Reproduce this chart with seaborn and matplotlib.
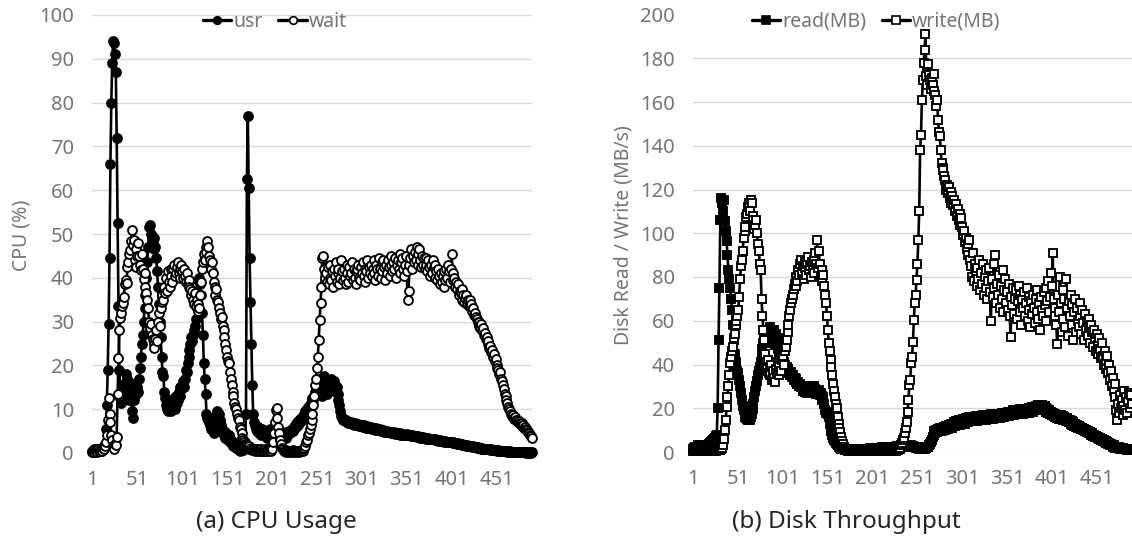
import numpy as np
import pandas as pd
import matplotlib
matplotlib.use("Agg")
import matplotlib.pyplot as plt
import seaborn as sns
from matplotlib.lines import Line2D

# ---- CPU usage (%), one sample per interval ----
usr = [
    0.5, 0.3, 0.8, 0.6, 1.0, 0.4, 0.7, 0.9, 0.5, 0.6,
    0.8, 1.2, 0.9, 1.5, 2.0, 5.5, 11, 19, 29.5, 44.5,
    66, 80, 89, 94, 93.5, 91, 87, 72, 52.6, 33.5,
    19, 12.5, 11.5, 13.5, 15.5, 14, 16, 18, 17, 15,
    14, 12, 16, 13, 9.5, 8, 12, 15, 16, 13.5,
    15, 14, 17, 19.5, 22, 25, 27, 30, 33, 36,
    40, 43.5, 47, 51.5, 52, 50, 49.5, 48, 46.5, 49,
    47, 44.5, 41.5, 38, 34, 30, 26.5, 22, 18.5, 17.5,
    14, 12.5, 11, 10, 9.5, 10.5, 11.5, 9.5, 12, 10.5,
    11, 12.5, 10, 13, 11.5, 12, 14, 13, 15, 14.5,
    15, 16.5, 15, 17, 19, 18.5, 20.5, 22, 23.5, 25,
    26.5, 25.5, 27, 28, 29, 30.5, 33, 36, 39.5, 40,
    38.5, 36, 32, 27, 20.5, 17, 13.5, 9, 8, 7.5,
    7, 6.5, 5.5, 6, 5, 4.5, 6, 7.5, 8.5, 9.5,
    8.5, 9, 7.5, 6.5, 5.5, 4.5, 5, 4, 3.5, 4.5,
    3.5, 3, 4, 2.5, 3, 2, 2.5, 1.5, 2, 1.5,
    1.2, 1.5, 0.8, 1, 0.5, 0.8, 0.6, 1, 0.7, 1.5,
    2.5, 9, 62.5, 77, 60.5, 44.5, 34.5, 25, 15.5, 9,
    7, 6.5, 5.5, 5, 6, 5.5, 4.5, 5, 4, 5.5,
    4.5, 5, 4, 4.5, 3.5, 5, 4, 4.5, 5.5, 4,
    5, 4.5, 5.5, 4, 3.5, 5, 4.5, 3.8, 5, 4.2,
    3.5, 4.5, 4, 3.8, 4.2, 3.5, 4.8, 4, 4.5, 5,
    4.5, 5, 5.5, 5, 6, 5.5, 6.5, 6, 7, 6.5,
    7.5, 7, 8, 7.5, 8.5, 8, 9, 9.5, 9, 10,
    10.5, 10, 11, 11.5, 12, 12.5, 12, 13, 14, 14.5,
    15, 16, 15.5, 17, 14.5, 16, 13, 15, 17.5, 14,
    15.5, 13.5, 16, 14.5, 15, 16.5, 17, 16, 15, 16.5,
    15.5, 14, 15, 13.5, 12, 11, 9.5, 8.5, 8, 7.5,
    7.8, 7.2, 7.5, 7, 7.3, 6.8, 7.1, 6.9, 7, 6.7,
    6.8, 6.5, 6.9, 6.4, 6.6, 6.3, 6.7, 6.2, 6.5, 6.1,
    6.4, 6, 6.3, 5.9, 6.2, 5.8, 6.1, 5.7, 6, 5.6,
    5.9, 5.5, 5.8, 5.4, 5.7, 5.3, 5.6, 5.2, 5.5, 5.2,
    5.4, 5.1, 5.3, 5, 5.2, 4.9, 5.1, 4.8, 5, 4.8,
    4.9, 4.7, 4.8, 4.6, 4.8, 4.5, 4.7, 4.4, 4.6, 4.4,
    4.5, 4.3, 4.5, 4.2, 4.4, 4.1, 4.3, 4, 4.2, 4,
    4.3, 4.1, 4.2, 4, 4.1, 3.9, 4, 3.8, 3.9, 3.9,
    3.8, 3.7, 3.8, 3.6, 3.7, 3.5, 3.6, 3.5, 3.6, 3.4,
    3.5, 3.3, 3.4, 3.3, 3.4, 3.2, 3.3, 3.1, 3.2, 3.1,
    3.2, 3, 3.1, 2.9, 3, 2.8, 3, 2.9, 2.7, 2.8,
    2.7, 2.8, 2.6, 2.7, 2.5, 2.6, 2.6, 2.4, 2.5, 2.4,
    2.5, 2.3, 2.4, 2.2, 2.3, 2.2, 2.1, 2.2, 2, 2.1,
    2, 1.9, 2, 1.8, 1.9, 1.8, 1.7, 1.8, 1.6, 1.7,
    1.6, 1.5, 1.6, 1.4, 1.5, 1.4, 1.3, 1.4, 1.2, 1.3,
    1.2, 1.1, 1.2, 1, 1.1, 1, 0.9, 1, 0.9, 0.8,
    0.9, 0.8, 0.8, 0.7, 0.8, 0.7, 0.6, 0.7, 0.6, 0.6,
    0.6, 0.5, 0.6, 0.5, 0.5, 0.4, 0.5, 0.4, 0.5, 0.4,
    0.4, 0.4, 0.3, 0.4, 0.3, 0.4, 0.3, 0.3, 0.3, 0.3,
    0.3, 0.2, 0.3, 0.2, 0.3, 0.2, 0.2, 0.3, 0.2, 0.2,
    0.2, 0.2, 0.2, 0.1, 0.2, 0.2, 0.1, 0.2, 0.1, 0.2,
]

wait = [
    0.3, 0.5, 0.2, 0.6, 0.4, 0.3, 0.8, 0.5, 0.4, 0.6,
    0.8, 0.5, 1.2, 0.9, 1.5, 2.5, 4, 7.5, 12.5, 9,
    7, 4, 3, 1.5, 1, 2, 1.8, 3.7, 13.5, 21.6,
    28, 30.8, 32, 33.5, 34.2, 35.7, 38.5, 39.5, 38.8, 42.5,
    43.7, 45.5, 46.4, 48.5, 51, 47.5, 48.7, 44, 46.5, 42.5,
    45, 48, 44.9, 43, 41.8, 45.5, 42, 39.8, 41, 38,
    36.5, 35, 33, 30, 28.5, 29.5, 27, 26, 25, 24,
    26, 28, 25.5, 30, 32, 29, 33, 34.5, 36, 35,
    38, 36.5, 40, 37, 41.5, 39, 38, 42, 40.5, 39,
    42, 43, 40.5, 41, 42.5, 43.5, 41, 40, 42, 43,
    41.5, 40, 42, 40.5, 39, 41, 38.5, 39.5, 38, 37.5,
    36, 37, 35, 34, 36.5, 33.5, 35, 32.5, 34, 33,
    36, 39, 42, 43.5, 45.5, 44, 47, 46, 48.5, 47,
    45, 44, 42, 43.5, 41, 39, 38, 36, 37.5, 35,
    34.5, 33, 32, 30.5, 31, 29, 28, 26.5, 25, 23.5,
    22, 21, 20.5, 18.5, 17, 15.5, 14, 13, 11.5, 10.5,
    10, 9, 8, 7.5, 6, 5.5, 4.5, 3.5, 3, 2.5,
    2, 1.8, 1.5, 1.2, 1.5, 1, 0.8, 1.2, 0.7, 1,
    0.8, 0.5, 1, 0.7, 0.4, 0.9, 0.6, 0.5, 0.8, 0.4,
    0.6, 0.5, 0.8, 0.4, 0.6, 0.9, 0.5, 0.7, 0.6, 0.5,
    1, 2.5, 4.5, 7, 9.8, 10.2, 8, 6, 4.5, 3,
    2, 1.2, 0.8, 0.5, 0.4, 0.6, 0.3, 0.5, 0.4, 0.3,
    0.5, 0.3, 0.4, 0.6, 0.3, 0.5, 0.4, 0.3, 0.5, 0.4,
    0.3, 0.5, 0.4, 0.6, 0.5, 0.8, 1.2, 1.5, 2.5, 3,
    4, 4.5, 5.5, 6.5, 7.5, 9, 11, 13, 15.5, 17,
    19.5, 22, 25.8, 30.4, 34.2, 38, 44.5, 45, 42, 40,
    41, 39, 42.5, 38.5, 40, 43, 39.5, 41.5, 38, 42,
    40.5, 43.5, 39, 41, 42, 38.5, 40, 44, 41.5, 39.5,
    42, 40, 38.5, 41, 43, 39, 42.5, 40.5, 41, 43.5,
    39.5, 42, 40, 41.5, 38.5, 42, 43, 40, 39.5, 42.5,
    41, 43.5, 40.5, 42, 39, 41.5, 44, 40, 42.5, 41,
    43, 40.5, 42, 44, 41, 39.5, 43, 42, 40.5, 44.5,
    42, 40, 43.5, 41.5, 44, 42.5, 39.5, 43, 41, 44,
    42.5, 40.5, 43, 45, 41.5, 43.5, 42, 44.5, 40, 43,
    44, 42, 45.5, 41, 43.5, 44.5, 42, 40.5, 43, 45,
    41.5, 35, 37, 43, 44.5, 46.5, 42, 45, 43.5, 46,
    44, 47, 45.5, 43, 46.5, 44, 42.5, 45, 43, 44.5,
    42, 44.5, 43, 41.5, 44, 42.5, 40.5, 43, 41, 44,
    42.5, 40, 43, 41.5, 39.5, 42, 40.5, 38.5, 41, 39,
    40.5, 38, 41.5, 39.5, 42, 40, 43, 41.5, 39, 42,
    45.5, 41, 39.5, 40, 38, 39, 37.5, 38.5, 36, 37,
    36.5, 37.5, 35, 36, 34.5, 35.5, 36, 34, 35, 33.5,
    35, 33.5, 34, 32.5, 33, 31.5, 32, 31, 30.5, 30,
    30, 29, 28.5, 29.5, 28, 28.5, 27, 27.5, 26, 26.5,
    25, 25.5, 24, 24.5, 23, 23.5, 22, 22.5, 21, 21.5,
    20, 19.5, 19, 18, 18.5, 17, 16.5, 15.5, 14.5, 13.5,
    13, 12, 11.5, 10.5, 10, 9.5, 9, 8.5, 8.7, 8,
    7.8, 8.2, 7.5, 7.6, 7, 7.3, 6.8, 6.5, 6.8, 6,
    6.3, 5.8, 6, 5.5, 5.2, 4.8, 4.5, 4.2, 3.8, 3.5,
]

# ---- Disk throughput (MB/s) ----
read_mb = [
    1.5, 2, 2.5, 1.8, 2.2, 3, 2.5, 2, 2.8, 2.4,
    2.6, 3, 2.2, 2.8, 3.2, 2.5, 3, 3.5, 4, 3.6,
    4.5, 5, 5.5, 6, 6.5, 7.5, 8, 20, 51, 75,
    106, 116, 114, 110, 115, 105.5, 101, 96.5, 90, 83,
    79, 75, 70, 65, 58, 51, 45, 41, 39, 37,
    36, 33, 30, 27, 24, 21, 19, 17.5, 16, 15.5,
    15, 14.5, 15, 14.8, 16, 17.5, 19.5, 22, 25, 28,
    30, 32.5, 35, 37, 39, 41, 44, 47, 50, 53,
    55, 52, 56, 51, 54, 57, 50, 55, 53, 52,
    56, 49, 54, 51, 47, 52, 45, 49, 43, 46,
    42, 41, 40, 38.5, 39, 37, 38, 36, 35, 36.5,
    34.5, 35, 33, 34, 32, 33.5, 31, 32, 30, 31,
    29.5, 30, 28, 29, 27.5, 28.5, 29, 27, 28, 30,
    28, 29.5, 27, 28.5, 30, 28, 29, 26.5, 28, 27,
    28.5, 26, 27, 25.5, 24, 25, 22, 19, 18, 18.5,
    17.5, 16, 13, 11, 9.5, 8, 6.5, 5.5, 5, 4,
    3.5, 3, 2.5, 3, 2, 1.5, 2, 1.2, 1.5, 1,
    1.2, 0.8, 1, 1.5, 0.9, 1.2, 0.7, 1, 1.3, 0.8,
    1, 1.4, 0.9, 1.2, 1.5, 1, 1.3, 0.8, 1.1, 1.4,
    1.2, 1.6, 1, 1.3, 1.5, 1.1, 1.4, 1.7, 1.2, 1.5,
    1.3, 1.8, 1.4, 1.6, 1.2, 1.9, 1.5, 1.7, 2, 1.6,
    1.8, 2.1, 1.5, 1.9, 2.2, 1.7, 2, 2.3, 1.8, 2.1,
    2.4, 1.9, 2.2, 2.5, 2, 2.3, 1.8, 2.6, 2.1, 2.4,
    2.7, 2.2, 2.5, 2.9, 2.4, 2.8, 3.2, 2.6, 3, 2.7,
    2.9, 3.2, 2.6, 3, 2.4, 2.8, 2.2, 2.5, 2, 2.3,
    1.8, 2.2, 1.6, 2, 1.5, 1.9, 1.4, 1.7, 1.5, 2,
    1.8, 2.5, 2.2, 3, 3.5, 4.5, 5.5, 7, 8, 9.5,
    8.5, 10, 9, 10.5, 9.5, 11, 10, 9.5, 11, 10.5,
    11.5, 10, 12, 11, 10.5, 12.5, 11.5, 13, 12, 11,
    12.5, 13.5, 12, 14, 12.5, 13, 14.5, 13, 12.5, 14,
    13.5, 15, 14, 13, 15.5, 14, 15, 13.5, 16, 14.5,
    15.5, 14, 16, 15, 14.5, 16.5, 15, 14, 16, 15.5,
    16, 14.5, 15.5, 17, 15, 16, 14.5, 16.5, 15.5, 17,
    16, 15, 17.5, 16.5, 15, 17, 16, 15.5, 17, 16.5,
    17.5, 16, 15.5, 17, 18, 16.5, 17.5, 16, 18, 17,
    17.5, 18.5, 16.5, 18, 17, 18.5, 17.5, 19, 17, 18,
    18.5, 17.5, 19, 18, 17.5, 19.5, 18, 19, 17.5, 18.5,
    19, 18, 19.5, 18.5, 20, 18, 19.5, 19, 20.5, 18.5,
    19.5, 20, 21, 19, 20.5, 21.5, 19.5, 21, 20, 21.5,
    20, 19, 21, 18.5, 20, 19.5, 18, 19, 17.5, 18.5,
    17, 18, 16.5, 17.5, 16, 17, 15.5, 16.5, 15, 16,
    17, 15, 16.5, 14.5, 16, 15, 14, 15.5, 14.5, 13.5,
    14.5, 13, 14, 12.5, 13.5, 12, 13, 11.5, 12.5, 11,
    12, 11, 11.5, 10.5, 11, 10, 10.5, 9.5, 10, 9,
    9.5, 9, 8.5, 9, 8, 8.5, 7.5, 8, 7, 7.5,
    7, 6.5, 7, 6, 6.5, 5.5, 6, 5, 5.5, 4.5,
    5, 4, 4.5, 3.5, 4, 3, 3.5, 3, 2.5, 3,
    2.5, 2, 2.5, 2, 1.8, 2.2, 1.6, 1.8, 1.5, 1.7,
    1.4, 1.5, 1.2, 1.4, 1.1, 1.3, 1, 1.2, 1, 1.1,
]

write_mb = [
    0.5, 0.8, 0.3, 1, 0.6, 0.4, 0.9, 0.7, 0.5, 0.8,
    0.6, 1, 0.4, 0.8, 0.7, 0.5, 1.1, 0.6, 0.9, 0.7,
    0.8, 0.5, 1, 0.7, 1.2, 0.6, 0.9, 1.3, 0.8, 1,
    1, 1.5, 2, 3, 6, 10, 14.5, 20.5, 25, 30,
    35, 40.5, 43.5, 46, 48, 52, 54, 58, 60, 62,
    65, 71, 79, 85, 88, 92, 98, 101, 103, 107.5,
    109, 112, 113.7, 110, 115, 114, 108, 106, 102, 104,
    106, 100, 95, 92, 86, 83, 70, 62, 56, 51,
    45, 41, 38, 42, 36, 39, 35, 40, 33, 37,
    34, 32, 38, 36, 41, 35, 39, 43, 37, 42,
    44, 40, 46, 48, 51, 55, 58, 62, 65, 68,
    70, 72, 74.5, 77, 76, 80, 78, 83, 81, 86,
    88, 82, 85, 79, 84, 87, 81, 86, 89, 83,
    85, 80, 87, 83, 88, 82, 91, 86, 97, 84,
    92, 86, 80, 83, 78, 81, 76, 72, 68, 62,
    56, 50, 46, 42, 39, 35, 31, 28, 25, 22,
    20, 16, 13, 11, 9, 7, 5, 3.5, 2.5, 1.5,
    1, 0.8, 1.2, 0.6, 0.9, 0.5, 0.8, 0.4, 0.7, 0.5,
    0.6, 0.4, 0.8, 0.5, 0.3, 0.7, 0.5, 0.4, 0.6, 0.3,
    0.5, 0.7, 0.4, 0.6, 0.3, 0.5, 0.8, 0.4, 0.6, 0.5,
    0.4, 0.6, 0.3, 0.7, 0.5, 0.4, 0.6, 0.8, 0.5, 0.3,
    0.6, 0.4, 0.7, 0.5, 0.3, 0.6, 0.4, 0.8, 0.5, 0.6,
    0.4, 0.7, 0.5, 0.3, 0.6, 0.9, 0.5, 1, 0.7, 1.5,
    1.2, 2, 3.2, 4, 5.5, 6.5, 8.5, 11, 13.9, 18.5,
    23.8, 30.6, 33, 40.5, 43.6, 50.4, 60.3, 68, 72, 78.6,
    86, 97, 110, 138, 145, 161, 170, 178, 184, 191,
    172, 168, 177.5, 172.5, 170, 166, 171, 168, 173, 165,
    163, 158, 161, 151.8, 146.4, 144.3, 138, 132, 130, 129,
    126, 124.4, 120, 122, 118.4, 121, 116, 119, 114, 117,
    113, 115, 110, 113.6, 108, 111, 106, 109, 104, 107,
    103, 99, 101, 96, 98, 93, 95, 90, 97, 88,
    85, 80, 91, 78, 86, 82, 76, 84, 79, 88,
    74, 82, 77, 86, 72, 80, 75, 83, 70, 78,
    84, 73, 60, 79, 71, 86, 75, 90, 68, 77,
    72, 81, 66, 76, 70, 83, 64, 74, 79, 68,
    73, 65, 77, 62, 52.7, 71, 67, 75, 63, 70,
    74, 61, 69, 76, 64, 72, 58, 70, 66, 73,
    62, 68, 75, 60, 71, 65, 57, 69, 63, 72,
    66, 59, 70, 64, 74, 61, 68, 56, 71, 65,
    62, 73, 67, 60, 75, 69, 78, 64, 71, 82,
    76, 90.8, 70, 62, 66, 58, 49.6, 72, 64, 80,
    68, 55, 74, 61, 70, 57, 79, 66, 53, 69,
    62, 72, 58, 67, 51, 64, 70, 55, 66, 60,
    57, 68, 62, 54, 65, 59, 51, 63, 56, 60,
    53, 61, 57, 50, 58, 55, 48, 56, 52, 46,
    54, 49, 45, 52, 47, 43, 50, 44, 40, 46,
    42, 38, 44, 36, 40, 33, 37, 30, 34, 28,
    31, 25, 19, 14.6, 22, 18, 26, 20, 24, 17,
    21, 28, 19, 25, 18, 23, 27, 20, 26, 22,
]

x_tick_values = [1, 51, 101, 151, 201, 251, 301, 351, 401, 451]
cpu_yticks = [0, 10, 20, 30, 40, 50, 60, 70, 80, 90, 100]
disk_yticks = [0, 20, 40, 60, 80, 100, 120, 140, 160, 180, 200]

sns.set_theme(style="white")
plt.rcParams["font.family"] = ["Noto Sans", "DejaVu Sans"]

GREY_TXT = "#757575"
GRID = "#d9d9d9"
W, H = 1132, 548

fig = plt.figure(figsize=(W / 100, H / 100), dpi=100)
ax1 = fig.add_axes([92 / W, 1 - 453 / H, 440 / W, 438 / H])
ax2 = fig.add_axes([693 / W, 1 - 452 / H, 439 / W, 437.5 / H])

n = len(usr)
t = np.arange(1, n + 1)
cpu = pd.DataFrame({"t": t, "usr": usr, "wait": wait})
disk = pd.DataFrame({"t": t, "read": read_mb, "write": write_mb})

line_kw = dict(color="black", linewidth=1.9, markeredgecolor="black",
               markeredgewidth=1.35, clip_on=False, legend=False)

sns.lineplot(data=cpu, x="t", y="usr", ax=ax1, marker="o", markersize=6.4,
             markerfacecolor="black", **line_kw)
sns.lineplot(data=cpu, x="t", y="wait", ax=ax1, marker="o", markersize=6.4,
             markerfacecolor="white", **line_kw)
sns.lineplot(data=disk, x="t", y="read", ax=ax2, marker="s", markersize=6.0,
             markerfacecolor="black", **line_kw)
sns.lineplot(data=disk, x="t", y="write", ax=ax2, marker="s", markersize=6.0,
             markerfacecolor="white", **line_kw)

for ax, yt in ((ax1, cpu_yticks), (ax2, disk_yticks)):
    ax.set_xlim(0.5, n + 0.5)
    ax.set_ylim(yt[0], yt[-1])
    ax.set_yticks(yt)
    ax.set_xticks(x_tick_values)
    ax.set_xticklabels([str(v) for v in x_tick_values])
    ax.set_xlabel("")
    ax.set_ylabel("")
    for s in ax.spines.values():
        s.set_visible(False)
    ax.yaxis.grid(True, color=GRID, linewidth=1.0)
    ax.xaxis.grid(False)
    ax.set_axisbelow(True)
    ax.tick_params(axis="both", length=0, labelsize=14.5, labelcolor=GREY_TXT)
    ax.tick_params(axis="y", pad=13)
    ax.tick_params(axis="x", pad=12)

# the top gridline of the disk panel is not drawn
ax2.get_ygridlines()[-1].set_visible(False)

# axis titles
fig.text(21 / W, 1 - 235 / H, "CPU (%)", rotation=90, ha="center", va="center",
         fontsize=14, color=GREY_TXT)
fig.text(623 / W, 1 - 235 / H, "Disk Read / Write (MB/s)", rotation=90,
         ha="center", va="center", fontsize=14, color=GREY_TXT)

# legends
def handle(marker, face):
    return Line2D([0], [0], color="black", linewidth=2.4, marker=marker,
                  markersize=5.5, markerfacecolor=face, markeredgecolor="black",
                  markeredgewidth=1.2)

leg_kw = dict(loc="center", ncol=2, frameon=False, fontsize=14,
              handlelength=1.45, handletextpad=0.12, columnspacing=0.8,
              labelcolor=GREY_TXT)
fig.legend([handle("o", "black"), handle("o", "white")], ["usr", "wait"],
           bbox_to_anchor=(275 / W, 1 - 22 / H), **leg_kw)
fig.legend([handle("s", "black"), handle("s", "white")], ["read(MB)", "write(MB)"],
           bbox_to_anchor=(876 / W, 1 - 22 / H), **leg_kw)

# panel captions
fig.text(276 / W, 1 - 522 / H, "(a) CPU Usage", ha="center", va="center",
         fontsize=17.5, color="#262626")
fig.text(846 / W, 1 - 522 / H, "(b) Disk Throughput", ha="center", va="center",
         fontsize=17.5, color="#262626")

fig.savefig("out.png", dpi=100)
